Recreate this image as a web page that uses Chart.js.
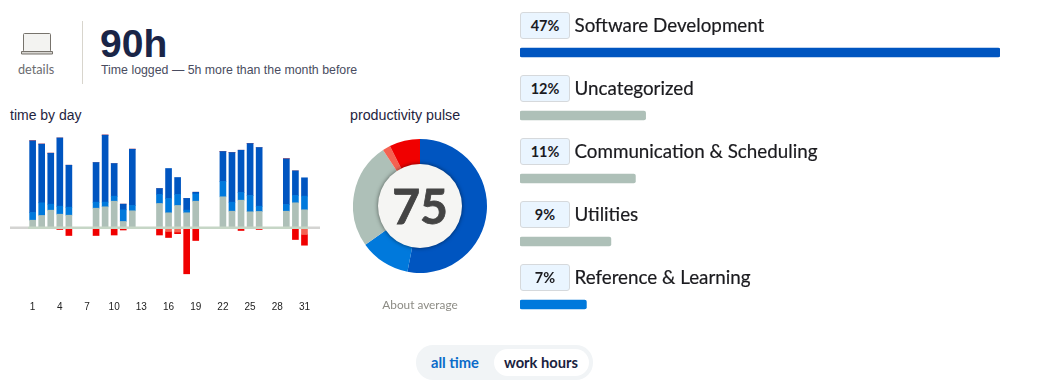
<!DOCTYPE html>
<html>
<head>
<meta charset="utf-8">
<script src="https://cdn.jsdelivr.net/npm/chart.js@4"></script>
<style>
  html, body { margin: 0; padding: 0; background: #fff; }
  body { width: 1049px; height: 392px; position: relative; overflow: hidden; font-family: Lato, sans-serif; }
  .abs { position: absolute; white-space: nowrap; line-height: 1; }
  canvas { position: absolute; }
  .chip { position: absolute; left: 520px; width: 48px; height: 25px; background: #eaf5ff; border: 1px solid #d6d9dc; border-radius: 3px;
    text-align: center; font: bold 14.5px/25px Lato, sans-serif; color: #1b1b1f; }
  .cat { position: absolute; left: 574.5px; font-size: 18.8px; line-height: 26px; color: #1b1b1f; white-space: nowrap; -webkit-text-stroke: .2px #1b1b1f; }
  .hole { position: absolute; left: 378px; top: 164px; width: 84px; height: 84px; border-radius: 50%; background: #f5f5f3;
    box-shadow: 0 0 4px rgba(0,0,0,.55); text-align: center; font: bold 48px/84px Lato, sans-serif; color: #444; -webkit-text-stroke: .8px #444; }
</style>
</head>
<body>
<svg class="abs" style="left:21px;top:32px" width="32" height="24" viewBox="0 0 32 24">
  <rect x="2.5" y="1.5" width="27" height="18" rx="1" fill="#f3f3f1" stroke="#77736c" stroke-width="1"/>
  <path d="M0.5 19.5h31v2.5h-31z" fill="#d8d6d2" stroke="#77736c" stroke-width="1"/>
</svg>
<div class="abs" style="left:18px;top:63px;font-size:12.7px;color:#6b6b70">details</div>
<div class="abs" style="left:82px;top:21px;width:1px;height:63px;background:#d8d5cd"></div>
<div class="abs" style="left:100px;top:24px;font:bold 39px/1 'Liberation Sans',sans-serif;color:#1a2547">90h</div>
<div class="abs" style="left:101px;top:64px;font:12.35px/1 'Liberation Sans',sans-serif;color:#494c60">Time logged — 5h more than the month before</div>
<div class="abs" style="left:10px;top:108px;font:14px/1 'Liberation Sans',sans-serif;color:#1f2440">time by day</div>
<div class="abs" style="left:350px;top:108px;font:14.25px/1 'Liberation Sans',sans-serif;color:#1f2440">productivity pulse</div>

<canvas id="daysChart" width="340" height="200" style="left:0;top:120px;width:340px;height:200px"></canvas>
<canvas id="pulseChart" width="134" height="134" style="left:353px;top:139px;width:134px;height:134px"></canvas>
<div class="hole">75</div>
<div class="abs" style="left:320px;width:200px;top:299px;text-align:center;font-size:11.8px;color:#8c8b84">About average</div>

<canvas id="catChart" width="500" height="315" style="left:510px;top:21px;width:500px;height:315px"></canvas>
<div id="catLabels"></div>

<div class="abs" style="left:416px;top:345px;width:177px;height:35px;border-radius:17px;background:#f1f4f6"></div>
<div class="abs" style="left:494px;top:349px;width:95px;height:27px;border-radius:14px;background:#fff"></div>
<div class="abs" style="left:431px;top:355px;font-weight:bold;font-size:14.7px;color:#0a6bc9">all time</div>
<div class="abs" style="left:504px;top:355px;font-weight:bold;font-size:14.7px;color:#1a2340">work hours</div>

<script>
const days = Array.from({ length: 31 }, (_, i) => String(i + 1))
// values, one per day
const neutral = [7.3, 12, 17.3, 13.3, 12.3, 0, 0, 19.3, 20.7, 26.3, 6, 16.7, 0, 0, 24, 14.7, 22, 14.7, 26.3, 0, 0, 30.7, 16.3, 27.3, 15.7, 16, 0, 0, 16.3, 24.7, 17.7]
const productive = [7.7, 12.7, 6, 8, 8, 0, 0, 6, 4.7, 5, 11.7, 5.3, 0, 0, 9, 14.3, 11, 2.7, 7.3, 0, 0, 15.3, 9, 7.7, 16.3, 5.3, 0, 0, 6.7, 7.3, 13.7]
const veryProductive = [71.7, 58.7, 51, 68.3, 42, 0, 0, 39.7, 67, 32.7, 5.7, 56.3, 0, 0, 6, 30, 17, 11.7, 1.7, 0, 0, 30, 49.7, 42.3, 52, 58.7, 0, 0, 45.7, 24.7, 18.3]
const distracting = [0, 0, 0, 0, 0, 0, 0, 0, 0, 0, 0, 0, 0, 0, 0, -4, -4.5, 0, 0, 0, 0, 0, 0, 0, 0, 0, 0, 0, 0, 0, -7]
const veryDistracting = [0, 0, 0, -2, -8, 0, 0, -8, 0, -7.5, -2.5, 0, 0, 0, -7.5, -6, -1.7, -46.3, -13, 0, 0, 0, 0, -3, 0, -2, 0, 0, 0, -12, -10.7]

const pulseLabels = ['Very productive', 'Productive', 'Neutral', 'Distracting', 'Very distracting']
const pulseValues = [53, 12.2, 25.5, 1.9, 7.4]

const categories = ['Software Development', 'Uncategorized', 'Communication & Scheduling', 'Utilities', 'Reference & Learning']
const categoryPercents = ['47%', '12%', '11%', '9%', '7%']
const categoryValues = [47, 12.3, 11.3, 8.9, 6.5]

const DARK_BLUE = '#0055c0'
const BLUE = '#0079dc'
const GRAY = '#aec0b8'
const PALE_RED = '#f46252'
const RED = '#f00000'

Chart.defaults.animation = false

const baseline = {
  id: 'baseline',
  afterDatasetsDraw(chart) {
    const { ctx, scales } = chart
    const y = scales.y.getPixelForValue(0)
    ctx.save()
    ctx.fillStyle = '#d4d4d2'
    ctx.fillRect(10, y - 1, 18, 2.5)
    ctx.fillRect(308, y - 1, 12, 2.5)
    ctx.fillStyle = '#c6d6c6'
    ctx.fillRect(28, y - 1, 280, 2.5)
    ctx.restore()
  },
}

const dayBar = (data, backgroundColor) => ({ data, backgroundColor, barThickness: 6, borderWidth: 0 })

new Chart(document.getElementById('daysChart'), {
  type: 'bar',
  plugins: [baseline],
  data: {
    labels: days,
    datasets: [
      dayBar(neutral, GRAY),
      dayBar(productive, BLUE),
      dayBar(veryProductive, DARK_BLUE),
      dayBar(distracting, PALE_RED),
      dayBar(veryDistracting, RED),
    ],
  },
  options: {
    responsive: false,
    layout: { padding: { left: 28.1, right: 31 } },
    plugins: { legend: { display: false }, tooltip: { enabled: false } },
    scales: {
      x: {
        stacked: true,
        border: { display: false },
        grid: { display: false, drawTicks: false },
        afterFit(scale) { scale.height = 25 },
        ticks: {
          autoSkip: false,
          maxRotation: 0,
          padding: 6,
          color: '#222',
          font: { family: 'Liberation Sans', size: 10 },
          callback(value, i) { return i % 3 === 0 ? this.getLabelForValue(value) : '' },
        },
      },
      y: { stacked: true, display: false, min: -67.5, max: 107.5 },
    },
  },
})

new Chart(document.getElementById('pulseChart'), {
  type: 'doughnut',
  data: {
    labels: pulseLabels,
    datasets: [{
      data: pulseValues,
      backgroundColor: [DARK_BLUE, BLUE, GRAY, PALE_RED, RED],
      borderWidth: 0,
    }],
  },
  options: {
    responsive: false,
    cutout: '60%',
    plugins: { legend: { display: false }, tooltip: { enabled: false } },
  },
})

new Chart(document.getElementById('catChart'), {
  type: 'bar',
  data: {
    labels: categories,
    datasets: [{
      data: categoryValues,
      backgroundColor: [DARK_BLUE, GRAY, GRAY, GRAY, BLUE],
      barThickness: 9,
      borderRadius: 2,
      borderSkipped: false,
    }],
  },
  options: {
    indexAxis: 'y',
    responsive: false,
    layout: { padding: { left: 10, right: 10 } },
    plugins: { legend: { display: false }, tooltip: { enabled: false } },
    scales: {
      x: { display: false, min: 0, max: 47 },
      y: { display: false },
    },
  },
})

const catLabels = document.getElementById('catLabels')
categories.forEach((name, i) => {
  const top = 12 + i * 63
  catLabels.insertAdjacentHTML('beforeend',
    `<div class="chip" style="top:${top}px">${categoryPercents[i]}</div>` +
    `<div class="cat" style="top:${top}px">${name.replace('&', '&amp;')}</div>`)
})
</script>
</body>
</html>
